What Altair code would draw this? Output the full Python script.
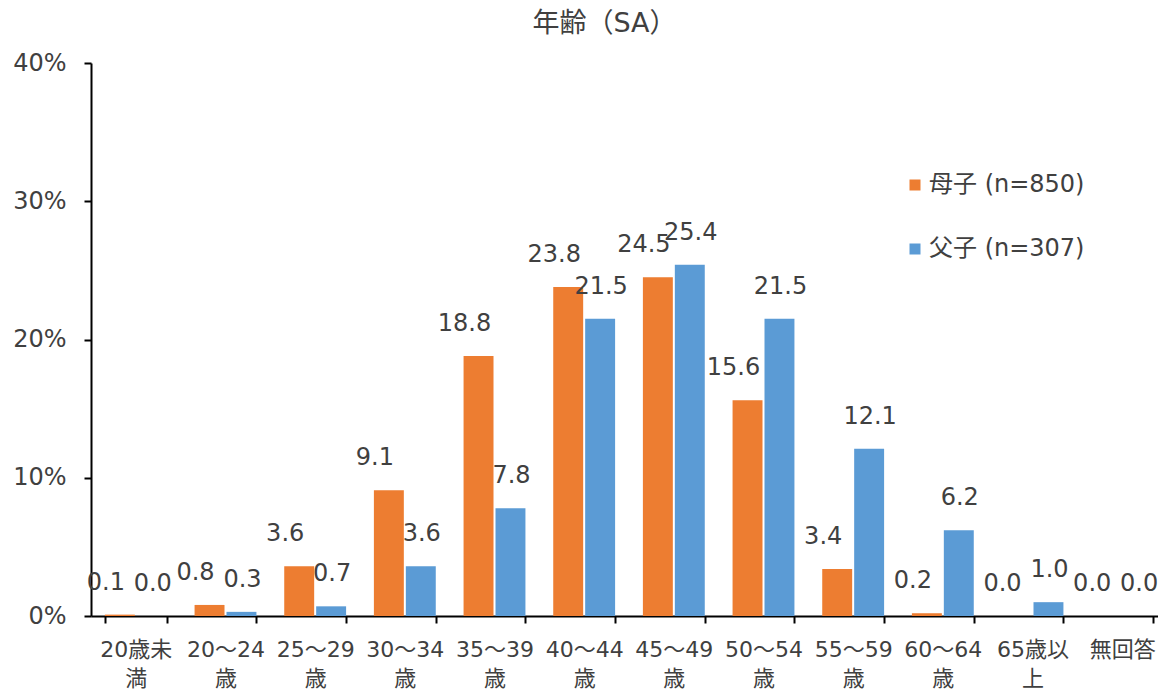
import altair as alt
import pandas as pd

categories = ["20歳未満", "20～24歳", "25～29歳", "30～34歳", "35～39歳", "40～44歳",
              "45～49歳", "50～54歳", "55～59歳", "60～64歳", "65歳以上", "無回答"]
series_names = ["母子 (n=850)", "父子 (n=307)"]
boshi = [0.1, 0.8, 3.6, 9.1, 18.8, 23.8, 24.5, 15.6, 3.4, 0.2, 0.0, 0.0]
fushi = [0.0, 0.3, 0.7, 3.6, 7.8, 21.5, 25.4, 21.5, 12.1, 6.2, 1.0, 0.0]
y_ticks = [0, 10, 20, 30, 40]
colors = ["#ED7D31", "#5B9BD5"]

rows = []
for s, vals in zip(series_names, [boshi, fushi]):
    for c, v in zip(categories, vals):
        rows.append({"cat": c, "series": s, "value": v})
df = pd.DataFrame(rows)

FONT = "DejaVu Sans, Noto Sans CJK JP"
TXT = "#404040"

label_expr = ("length(datum.label) > 3 ? [substring(datum.label, 0, length(datum.label) - 1), "
              "substring(datum.label, length(datum.label) - 1)] : datum.label")

x = alt.X("cat:N", sort=categories,
          scale=alt.Scale(range=[0, 1076], paddingInner=0.31, paddingOuter=0.155),
          axis=alt.Axis(title=None, labelAngle=0, labelExpr=label_expr, labelFontSize=22,
                        labelFont=FONT, labelLineHeight=29, labelPadding=16, tickSize=7,
                        tickBand="extent", tickColor="#000", tickWidth=2, domainColor="#000",
                        domainWidth=2, labelColor=TXT, labelOverlap=False))
y = alt.Y("value:Q", scale=alt.Scale(domain=[0, 40], nice=False),
          axis=alt.Axis(title=None, values=y_ticks, labelExpr="datum.value + '%'",
                        labelFontSize=24, labelFont=FONT, grid=False, tickSize=7,
                        labelPadding=18, domainColor="#000", domainWidth=2, tickColor="#000",
                        tickWidth=2, labelColor=TXT))
xoff = alt.XOffset("series:N", sort=series_names, scale=alt.Scale(paddingInner=0.0625))

base = alt.Chart(df)

bars = base.mark_bar().encode(
    x=x, y=y, xOffset=xoff,
    color=alt.Color("series:N", sort=series_names,
                    scale=alt.Scale(domain=series_names, range=colors),
                    legend=alt.Legend(title=None, orient="none", legendX=812, legendY=110,
                                      symbolType="square", symbolSize=121, labelFontSize=24,
                                      labelFont=FONT, rowPadding=40, labelOffset=2,
                                      labelColor=TXT, symbolStrokeWidth=0, padding=0)),
)

def labels(name, dx):
    return base.transform_filter(alt.datum.series == name).mark_text(
        font=FONT, fontSize=24, color=TXT, baseline="alphabetic", dy=-25, dx=dx
    ).encode(x=x, y=y, xOffset=xoff, text=alt.Text("value:Q", format=".1f"))

chart = alt.layer(bars, labels(series_names[0], -14), labels(series_names[1], 1)).properties(
    width=1067, height=553,
    title=alt.TitleParams("年齢（SA）", fontSize=27, font=FONT, color=TXT, fontWeight="normal",
                          dx=-20, offset=13, anchor="middle"),
    autosize=alt.AutoSizeParams(type="none"),
    padding={"left": 83, "top": 55, "right": 0, "bottom": 73},
).configure_view(stroke=None)

chart.save("out.html", embed_options={"renderer": "svg", "actions": False})
